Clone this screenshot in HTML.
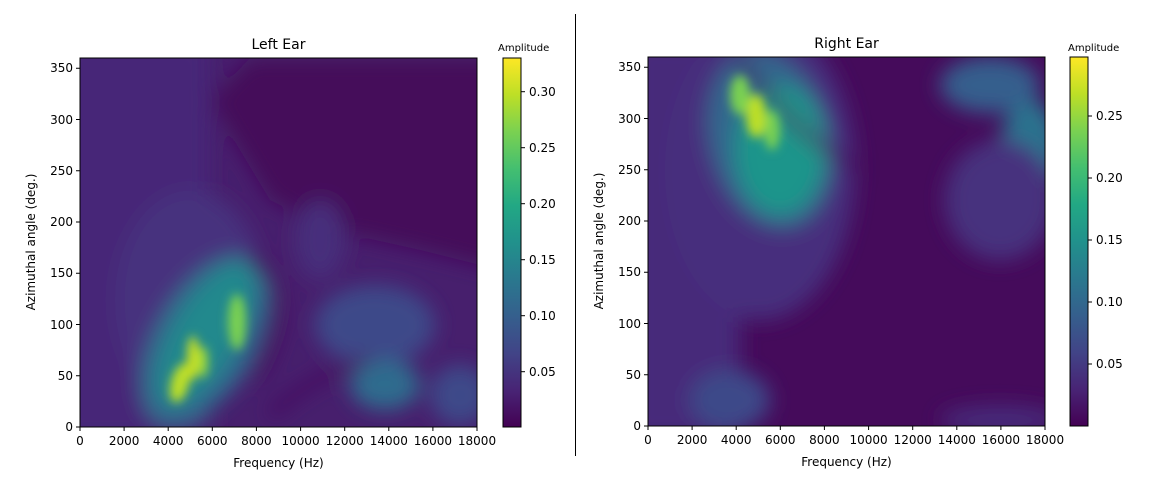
<!DOCTYPE html>
<html><head><meta charset="utf-8"><style>
html,body{margin:0;padding:0;background:#fff;}
svg{display:block;font-family:"DejaVu Sans","Liberation Sans",sans-serif;}
</style></head><body>
<svg width="1154" height="480" viewBox="0 0 1154 480" xmlns="http://www.w3.org/2000/svg">
<defs>
<filter id="b1" x="-20%" y="-20%" width="140%" height="140%"><feGaussianBlur stdDeviation="10"/></filter>
<filter id="b2" x="-20%" y="-20%" width="140%" height="140%"><feGaussianBlur stdDeviation="5"/></filter>
<clipPath id="cl"><rect x="80" y="58" width="397" height="369"/></clipPath>
<clipPath id="cr"><rect x="648" y="57" width="397" height="369"/></clipPath>
<linearGradient id="vir" x1="0" y1="1" x2="0" y2="0">
<stop offset="0" stop-color="#440154"/><stop offset="0.1" stop-color="#482475"/><stop offset="0.2" stop-color="#414487"/><stop offset="0.3" stop-color="#355f8d"/><stop offset="0.4" stop-color="#2a788e"/><stop offset="0.5" stop-color="#21918c"/><stop offset="0.6" stop-color="#22a884"/><stop offset="0.7" stop-color="#44bf70"/><stop offset="0.8" stop-color="#7ad151"/><stop offset="0.9" stop-color="#bddf26"/><stop offset="1" stop-color="#fde725"/>
</linearGradient>
</defs>

<!-- LEFT heatmap -->
<g clip-path="url(#cl)">
<rect x="80" y="58" width="397" height="369" fill="#471f6d"/>
<g filter="url(#b1)">
<path d="M250 58 L500 58 L500 270 L420 250 L330 230 L270 200 L240 150 L210 100 Z" fill="#440a5a"/>
<rect x="60" y="40" width="150" height="400" fill="#472878"/>
<ellipse cx="190" cy="300" rx="75" ry="110" fill="#46327e"/>
<ellipse cx="205" cy="340" rx="50" ry="95" fill="#2e6c8e" transform="rotate(30 205 340)"/>
<ellipse cx="205" cy="335" rx="32" ry="80" fill="#22898d" transform="rotate(30 205 335)"/>
<ellipse cx="375" cy="325" rx="60" ry="40" fill="#3e4a89"/>
<ellipse cx="385" cy="385" rx="35" ry="25" fill="#2e6c8e"/>
<ellipse cx="460" cy="395" rx="30" ry="30" fill="#3e4a89"/>
<ellipse cx="320" cy="240" rx="25" ry="40" fill="#472d7b"/>
<path d="M250 255 Q305 300 255 380" stroke="#440a5a" stroke-width="9" fill="none"/>
<path d="M270 415 Q320 370 370 360" stroke="#440c5c" stroke-width="8" fill="none"/>
</g>
<g filter="url(#b2)">
<ellipse cx="237" cy="322" rx="9" ry="28" fill="#7ad151"/>
<ellipse cx="180" cy="383" rx="9" ry="20" fill="#bddf26" transform="rotate(15 180 383)"/>
<ellipse cx="193" cy="358" rx="6" ry="22" fill="#c8e020"/>
<ellipse cx="203" cy="362" rx="5" ry="16" fill="#9cd93a"/>
</g>
</g>
<rect x="80" y="58" width="397" height="369" fill="none" stroke="#000" stroke-width="1"/>

<!-- RIGHT heatmap -->
<g clip-path="url(#cr)">
<rect x="648" y="57" width="397" height="369" fill="#450b5b"/>
<g filter="url(#b1)">
<rect x="630" y="40" width="110" height="400" fill="#472b7a"/>
<ellipse cx="760" cy="170" rx="95" ry="150" fill="#472f7d"/>
<ellipse cx="770" cy="140" rx="60" ry="90" fill="#30688e" transform="rotate(-15 770 140)"/>
<ellipse cx="780" cy="150" rx="45" ry="65" fill="#1f958b"/>
<ellipse cx="990" cy="85" rx="50" ry="28" fill="#355f8d"/>
<ellipse cx="1030" cy="150" rx="30" ry="50" fill="#2c728e"/>
<ellipse cx="1000" cy="200" rx="55" ry="60" fill="#46307e"/>
<ellipse cx="730" cy="400" rx="40" ry="30" fill="#3e4a89"/>
<ellipse cx="1000" cy="420" rx="60" ry="14" fill="#472c7a"/>
<path d="M740 60 Q800 140 860 170" stroke="#450c5c" stroke-width="8" fill="none"/>
</g>
<g filter="url(#b2)">
<ellipse cx="756" cy="116" rx="10" ry="22" fill="#bddf26"/>
<ellipse cx="740" cy="95" rx="10" ry="20" fill="#7ad151"/>
<ellipse cx="772" cy="130" rx="8" ry="20" fill="#7ad151"/>
</g>
</g>
<rect x="648" y="57" width="397" height="369" fill="none" stroke="#000" stroke-width="1"/>

<!-- colorbars -->
<rect x="503" y="58" width="18" height="369" fill="url(#vir)" stroke="#000" stroke-width="1"/>
<rect x="1070" y="57" width="18" height="369" fill="url(#vir)" stroke="#000" stroke-width="1"/>

<g stroke="#000" stroke-width="1">
<line x1="521" y1="91.7" x2="525" y2="91.7"/><line x1="521" y1="147.7" x2="525" y2="147.7"/><line x1="521" y1="203.7" x2="525" y2="203.7"/><line x1="521" y1="259.7" x2="525" y2="259.7"/><line x1="521" y1="315.7" x2="525" y2="315.7"/><line x1="521" y1="371.7" x2="525" y2="371.7"/>
<line x1="1088" y1="116" x2="1092" y2="116"/><line x1="1088" y1="178" x2="1092" y2="178"/><line x1="1088" y1="240" x2="1092" y2="240"/><line x1="1088" y1="302" x2="1092" y2="302"/><line x1="1088" y1="364" x2="1092" y2="364"/>
<line x1="575.5" y1="14" x2="575.5" y2="456"/>
</g>

<g font-size="12" fill="#000">
<text x="529" y="96">0.30</text><text x="529" y="152">0.25</text><text x="529" y="208">0.20</text><text x="529" y="264">0.15</text><text x="529" y="320">0.10</text><text x="529" y="376">0.05</text>
<text x="1096" y="120">0.25</text><text x="1096" y="182">0.20</text><text x="1096" y="244">0.15</text><text x="1096" y="306">0.10</text><text x="1096" y="368">0.05</text>
</g>
<g font-size="10" fill="#000">
<text x="498" y="51">Amplitude</text>
<text x="1068" y="51">Amplitude</text>
</g>

<g stroke="#000">
<line x1="80" y1="427" x2="80" y2="431"/><line x1="124.1" y1="427" x2="124.1" y2="431"/><line x1="168.2" y1="427" x2="168.2" y2="431"/><line x1="212.3" y1="427" x2="212.3" y2="431"/><line x1="256.4" y1="427" x2="256.4" y2="431"/><line x1="300.6" y1="427" x2="300.6" y2="431"/><line x1="344.7" y1="427" x2="344.7" y2="431"/><line x1="388.8" y1="427" x2="388.8" y2="431"/><line x1="432.9" y1="427" x2="432.9" y2="431"/><line x1="477" y1="427" x2="477" y2="431"/>
<line x1="76" y1="427" x2="80" y2="427"/><line x1="76" y1="375.75" x2="80" y2="375.75"/><line x1="76" y1="324.5" x2="80" y2="324.5"/><line x1="76" y1="273.25" x2="80" y2="273.25"/><line x1="76" y1="222" x2="80" y2="222"/><line x1="76" y1="170.75" x2="80" y2="170.75"/><line x1="76" y1="119.5" x2="80" y2="119.5"/><line x1="76" y1="68.25" x2="80" y2="68.25"/>
</g>
<g stroke="#000" transform="translate(568,-1)">
<line x1="80" y1="427" x2="80" y2="431"/><line x1="124.1" y1="427" x2="124.1" y2="431"/><line x1="168.2" y1="427" x2="168.2" y2="431"/><line x1="212.3" y1="427" x2="212.3" y2="431"/><line x1="256.4" y1="427" x2="256.4" y2="431"/><line x1="300.6" y1="427" x2="300.6" y2="431"/><line x1="344.7" y1="427" x2="344.7" y2="431"/><line x1="388.8" y1="427" x2="388.8" y2="431"/><line x1="432.9" y1="427" x2="432.9" y2="431"/><line x1="477" y1="427" x2="477" y2="431"/>
<line x1="76" y1="427" x2="80" y2="427"/><line x1="76" y1="375.75" x2="80" y2="375.75"/><line x1="76" y1="324.5" x2="80" y2="324.5"/><line x1="76" y1="273.25" x2="80" y2="273.25"/><line x1="76" y1="222" x2="80" y2="222"/><line x1="76" y1="170.75" x2="80" y2="170.75"/><line x1="76" y1="119.5" x2="80" y2="119.5"/><line x1="76" y1="68.25" x2="80" y2="68.25"/>
</g>

<g font-size="12" fill="#000">
<g text-anchor="middle">
<text x="80" y="445">0</text><text x="124.1" y="445">2000</text><text x="168.2" y="445">4000</text><text x="212.3" y="445">6000</text><text x="256.4" y="445">8000</text><text x="300.6" y="445">10000</text><text x="344.7" y="445">12000</text><text x="388.8" y="445">14000</text><text x="432.9" y="445">16000</text><text x="477" y="445">18000</text>
<text x="278.5" y="467">Frequency (Hz)</text>
<text x="278.5" y="49" font-size="14">Left Ear</text>
</g>
<g text-anchor="end">
<text x="73" y="431">0</text><text x="73" y="380">50</text><text x="73" y="329">100</text><text x="73" y="277">150</text><text x="73" y="226">200</text><text x="73" y="175">250</text><text x="73" y="124">300</text><text x="73" y="72">350</text>
</g>
<text transform="translate(35,242) rotate(-90)" text-anchor="middle">Azimuthal angle (deg.)</text>

<g transform="translate(568,-1)">
<g text-anchor="middle">
<text x="80" y="445">0</text><text x="124.1" y="445">2000</text><text x="168.2" y="445">4000</text><text x="212.3" y="445">6000</text><text x="256.4" y="445">8000</text><text x="300.6" y="445">10000</text><text x="344.7" y="445">12000</text><text x="388.8" y="445">14000</text><text x="432.9" y="445">16000</text><text x="477" y="445">18000</text>
<text x="278.5" y="467">Frequency (Hz)</text>
<text x="278.5" y="49" font-size="14">Right Ear</text>
</g>
<g text-anchor="end">
<text x="73" y="431">0</text><text x="73" y="380">50</text><text x="73" y="329">100</text><text x="73" y="277">150</text><text x="73" y="226">200</text><text x="73" y="175">250</text><text x="73" y="124">300</text><text x="73" y="72">350</text>
</g>
<text transform="translate(35,242) rotate(-90)" text-anchor="middle">Azimuthal angle (deg.)</text>
</g>
</g>
</svg>
</body></html>
